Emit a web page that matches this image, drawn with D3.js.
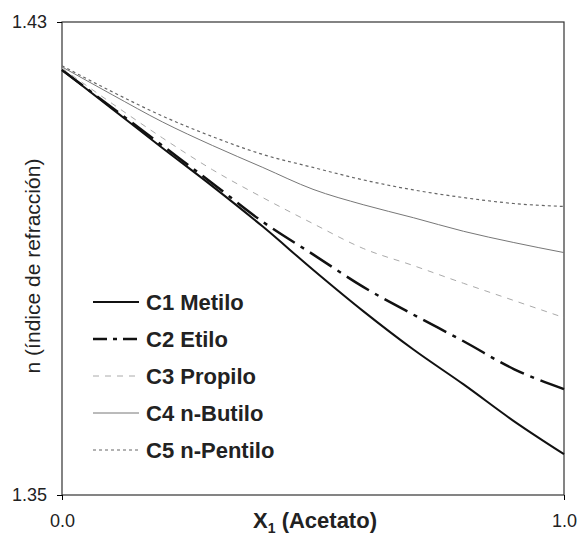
<!DOCTYPE html>
<html>
<head>
<meta charset="utf-8">
<script src="https://d3js.org/d3.v7.min.js"></script>
<style>
  body { margin: 0; background: #fff; }
  text { font-family: "Liberation Sans", Arial, sans-serif; fill: #222; }
</style>
</head>
<body>
<div id="chart"></div>
<script>
// data
const xValues = [0.0, 0.1, 0.2, 0.3, 0.4, 0.5, 0.6, 0.7, 0.8, 0.9, 1.0];
const seriesNames = ["C1 Metilo", "C2 Etilo", "C3 Propilo", "C4 n-Butilo", "C5 n-Pentilo"];
const c1Metilo = [1.4219, 1.4153, 1.4087, 1.4022, 1.3954, 1.3881, 1.3811, 1.3746, 1.3687, 1.3625, 1.3569];
const c2Etilo = [1.4219, 1.4155, 1.4091, 1.4027, 1.3962, 1.3907, 1.3852, 1.3805, 1.3760, 1.3713, 1.3679];
const c3Propilo = [1.4222, 1.4162, 1.4104, 1.4050, 1.4003, 1.3959, 1.3917, 1.3888, 1.3858, 1.3829, 1.3800];
const c4Butilo = [1.4224, 1.4177, 1.4131, 1.4091, 1.4054, 1.4017, 1.3991, 1.3969, 1.3946, 1.3927, 1.3910];
const c5Pentilo = [1.4226, 1.4182, 1.4141, 1.4106, 1.4076, 1.4054, 1.4033, 1.4016, 1.4003, 1.3993, 1.3988];
const xTicks = [0.0, 1.0];
const yTicks = [1.35, 1.43];

// line styles for each series
const styles = [
  {color: "#111", width: 2, dash: null},
  {color: "#111", width: 2.5, dash: "26,7,4,7"},
  {color: "#aaa", width: 1, dash: "6,6"},
  {color: "#777", width: 1, dash: null},
  {color: "#666", width: 1.2, dash: "3,3"}
];

let margin = {top: 22, right: 16, bottom: 42, left: 62},
    width = 580 - margin.left - margin.right,
    height = 537 - margin.top - margin.bottom;

let svg = d3.select("#chart")
  .append("svg")
    .attr("width", 580)
    .attr("height", 537)
  .append("g")
    .attr("transform", "translate(" + margin.left + "," + margin.top + ")");

let x = d3.scaleLinear().domain([0, 1]).range([0, width]);
let y = d3.scaleLinear().domain([1.35, 1.43]).range([height, 0]);

// frame
svg.append("rect")
  .attr("width", width)
  .attr("height", height)
  .attr("fill", "none")
  .attr("stroke", "#333")
  .attr("stroke-width", 1.2);

// axes
svg.append("g")
  .attr("transform", "translate(0," + height + ")")
  .call(d3.axisBottom(x).tickValues(xTicks).tickFormat(d3.format(".1f")).tickSize(5).tickPadding(14))
  .call(g => g.select(".domain").remove())
  .call(g => g.selectAll("text").style("font-size", "18px").attr("fill", "#222"));

svg.append("g")
  .call(d3.axisLeft(y).tickValues(yTicks).tickFormat(d3.format(".2f")).tickSize(5).tickPadding(10))
  .call(g => g.select(".domain").remove())
  .call(g => g.selectAll("text").style("font-size", "18px").attr("fill", "#222"));

// axis titles
let xTitle = svg.append("text")
  .attr("x", 253)
  .attr("y", height + 33)
  .attr("text-anchor", "middle")
  .style("font-size", "22px")
  .style("font-weight", "bold");
xTitle.append("tspan").text("X");
xTitle.append("tspan").attr("dy", 5).style("font-size", "14px").text("1");
xTitle.append("tspan").attr("dy", -5).text(" (Acetato)");

svg.append("text")
  .attr("transform", "translate(-22," + 244 + ") rotate(-90)")
  .attr("text-anchor", "middle")
  .style("font-size", "21px")
  .text("n (índice de refracción)");

// curves
let allSeries = [c1Metilo, c2Etilo, c3Propilo, c4Butilo, c5Pentilo];
let line = d3.line()
  .x(function(d, i) { return x(xValues[i]); })
  .y(function(d) { return y(d); })
  .curve(d3.curveMonotoneX);

svg.append("g")
  .selectAll("path")
  .data(allSeries)
  .enter()
  .append("path")
    .attr("d", line)
    .attr("fill", "none")
    .attr("stroke", function(d, i) { return styles[i].color; })
    .attr("stroke-width", function(d, i) { return styles[i].width; })
    .attr("stroke-dasharray", function(d, i) { return styles[i].dash; });

// legend
let legend = svg.append("g")
  .selectAll("g")
  .data(seriesNames)
  .enter()
  .append("g")
    .attr("transform", function(d, i) { return "translate(31," + (280 + i * 37) + ")"; });

legend.append("line")
  .attr("x1", 0).attr("x2", 46)
  .attr("stroke", function(d, i) { return styles[i].color; })
  .attr("stroke-width", function(d, i) { return styles[i].width; })
  .attr("stroke-dasharray", function(d, i) { return i == 1 ? "14,6,4,6" : styles[i].dash; });

legend.append("text")
  .attr("x", 53)
  .attr("y", 8)
  .style("font-size", "22px")
  .style("font-weight", "bold")
  .text(function(d) { return d; });
</script>
</body>
</html>
